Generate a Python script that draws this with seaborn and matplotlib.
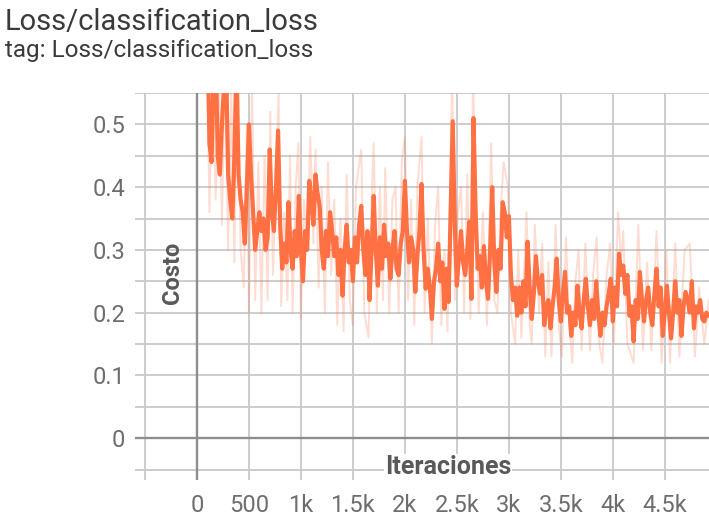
import numpy as np
import pandas as pd
import matplotlib
matplotlib.use("Agg")
import matplotlib.pyplot as plt
import seaborn as sns

# Smoothed classification loss, one value every 20 steps from step 100
smooth_first_step = 100
smooth_step_size = 20
smooth_loss = [
    0.66, 0.47, 0.44, 0.58, 0.62,
    0.45, 0.42, 0.50, 0.56, 0.60,
    0.42, 0.38, 0.35, 0.45, 0.60,
    0.42, 0.38, 0.36, 0.31, 0.40,
    0.50, 0.42, 0.36, 0.30, 0.33,
    0.36, 0.33, 0.35, 0.30, 0.32,
    0.46, 0.36, 0.33, 0.40, 0.49,
    0.34, 0.27, 0.31, 0.28, 0.376,
    0.30, 0.27, 0.33, 0.29, 0.386,
    0.30, 0.25, 0.33, 0.30, 0.41,
    0.38, 0.34, 0.42, 0.39, 0.37,
    0.30, 0.27, 0.33, 0.29, 0.36,
    0.33, 0.29, 0.32, 0.26, 0.30,
    0.227, 0.30, 0.34, 0.28, 0.30,
    0.25, 0.32, 0.28, 0.34, 0.37,
    0.30, 0.26, 0.33, 0.22, 0.30,
    0.386, 0.30, 0.243, 0.32, 0.27,
    0.34, 0.29, 0.31, 0.254, 0.30,
    0.33, 0.27, 0.26, 0.31, 0.33,
    0.41, 0.33, 0.28, 0.32, 0.30,
    0.233, 0.29, 0.33, 0.405, 0.30,
    0.238, 0.27, 0.24, 0.19, 0.25,
    0.27, 0.31, 0.25, 0.28, 0.206,
    0.27, 0.217, 0.36, 0.505, 0.34,
    0.243, 0.29, 0.33, 0.28, 0.26,
    0.30, 0.345, 0.222, 0.51, 0.36,
    0.27, 0.29, 0.24, 0.306, 0.25,
    0.222, 0.30, 0.40, 0.28, 0.233,
    0.30, 0.27, 0.376, 0.36, 0.32,
    0.354, 0.259, 0.22, 0.24, 0.195,
    0.24, 0.20, 0.25, 0.21, 0.313,
    0.24, 0.19, 0.23, 0.29, 0.25,
    0.23, 0.26, 0.18, 0.21, 0.22,
    0.175, 0.21, 0.24, 0.286, 0.22,
    0.186, 0.23, 0.265, 0.20, 0.21,
    0.163, 0.20, 0.18, 0.243, 0.20,
    0.175, 0.22, 0.254, 0.21, 0.18,
    0.22, 0.19, 0.25, 0.20, 0.163,
    0.20, 0.18, 0.21, 0.23, 0.254,
    0.186, 0.24, 0.21, 0.294, 0.26,
    0.275, 0.23, 0.26, 0.195, 0.21,
    0.154, 0.22, 0.19, 0.265, 0.22,
    0.186, 0.22, 0.24, 0.20, 0.18,
    0.23, 0.27, 0.21, 0.24, 0.163,
    0.20, 0.243, 0.20, 0.159, 0.20,
    0.25, 0.20, 0.22, 0.163, 0.21,
    0.233, 0.22, 0.20, 0.25, 0.175,
    0.21, 0.20, 0.22, 0.19, 0.186,
    0.20, 0.195,
]

# Raw (unsmoothed) loss values (step, value)
raw_steps = [
    90, 120, 150, 180, 210, 240, 270, 300, 330, 360, 390, 420, 450, 480, 500, 530,
    560, 590, 620, 650, 680, 705, 730, 760, 785, 810, 840, 870, 895, 920, 950, 975,
    1000, 1030, 1060, 1090, 1120, 1140, 1170, 1200, 1230, 1260, 1290, 1320, 1350,
    1380, 1410, 1440, 1470, 1500, 1530, 1580, 1610, 1650, 1680, 1700, 1730, 1760,
    1790, 1810, 1850, 1880, 1910, 1940, 1970, 2000, 2030, 2060, 2090, 2120, 2160,
    2190, 2220, 2260, 2290, 2320, 2350, 2380, 2410, 2440, 2455, 2480, 2510, 2540,
    2570, 2600, 2630, 2655, 2680, 2710, 2750, 2790, 2830, 2860, 2890, 2920, 2950,
    2990, 3020, 3060, 3090, 3120, 3170, 3200, 3220, 3250, 3290, 3320, 3350, 3380,
    3410, 3450, 3480, 3510, 3550, 3580, 3610, 3640, 3670, 3700, 3735, 3780, 3810,
    3845, 3870, 3900, 3940, 3975, 4010, 4050, 4080, 4100, 4140, 4200, 4245, 4290,
    4330, 4370, 4420, 4470, 4515, 4550, 4600, 4640, 4690, 4740, 4790, 4830, 4880,
    4923,
]
raw_loss = [
    0.70, 0.36, 0.62, 0.38, 0.58, 0.34, 0.62, 0.30, 0.55, 0.28, 0.62, 0.30, 0.24, 0.50, 0.20, 0.56,
    0.22, 0.44, 0.20, 0.45, 0.22, 0.52, 0.26, 0.40, 0.55, 0.21, 0.36, 0.22, 0.45, 0.20, 0.40, 0.47,
    0.19, 0.38, 0.30, 0.48, 0.31, 0.46, 0.24, 0.40, 0.20, 0.44, 0.26, 0.38, 0.18,
    0.35, 0.17, 0.42, 0.22, 0.18, 0.40, 0.46, 0.20, 0.16, 0.38, 0.47, 0.20, 0.40,
    0.22, 0.43, 0.20, 0.38, 0.40, 0.20, 0.44, 0.48, 0.22, 0.38, 0.18, 0.40, 0.48,
    0.20, 0.35, 0.15, 0.34, 0.40, 0.18, 0.30, 0.17, 0.45, 0.58, 0.22, 0.36, 0.40,
    0.20, 0.42, 0.19, 0.58, 0.42, 0.20, 0.36, 0.18, 0.47, 0.22, 0.20, 0.36, 0.44,
    0.40, 0.20, 0.15, 0.30, 0.16, 0.36, 0.18, 0.15, 0.34, 0.20, 0.31, 0.13, 0.28,
    0.13, 0.34, 0.18, 0.13, 0.32, 0.18, 0.12, 0.25, 0.30, 0.14, 0.31, 0.14, 0.26,
    0.32, 0.15, 0.12, 0.26, 0.31, 0.15, 0.36, 0.28, 0.33, 0.15, 0.12, 0.34, 0.14,
    0.28, 0.14, 0.33, 0.12, 0.30, 0.12, 0.31, 0.13, 0.30, 0.31, 0.13, 0.24, 0.15,
    0.22,
]

x_ticks = [-500, 0, 500, 1000, 1500, 2000, 2500, 3000, 3500, 4000, 4500]
x_labels = ["", "0", "500", "1k", "1.5k", "2k", "2.5k", "3k", "3.5k", "4k", "4.5k"]
y_ticks = [-0.05, 0, 0.05, 0.1, 0.15, 0.2, 0.25, 0.3, 0.35, 0.4, 0.45, 0.5, 0.55]
y_labels = ["", "0", "", "0.1", "", "0.2", "", "0.3", "", "0.4", "", "0.5", ""]

LINE = "#ff7043"

sns.set_theme(style="white")
plt.rcParams["font.family"] = ["Roboto", "DejaVu Sans"]

W, H = 709, 518
fig = plt.figure(figsize=(W / 100, H / 100), dpi=100)
ax = fig.add_axes([135 / W, 1 - 480 / H, 1 - 135 / W, (480 - 93) / H])
ax.set_facecolor("white")

smooth_steps = smooth_first_step + smooth_step_size * np.arange(len(smooth_loss))
raw_df = pd.DataFrame({"step": raw_steps, "loss": raw_loss})
smooth_df = pd.DataFrame({"step": smooth_steps, "loss": smooth_loss})

sns.lineplot(data=raw_df, x="step", y="loss", ax=ax, color=LINE, alpha=0.24,
             linewidth=1.4, sort=False, estimator=None, zorder=3)
sns.lineplot(data=smooth_df, x="step", y="loss", ax=ax, color=LINE,
             linewidth=3.0, sort=False, estimator=None, zorder=4)

ax.set_xlim(-596, 4925)
ax.set_ylim(-0.0667, 0.5476)

ax.set_xticks(x_ticks)
ax.set_xticklabels(x_labels)
ax.set_yticks(y_ticks)
ax.set_yticklabels(y_labels)
ax.grid(True, color="#c9c9c9", linewidth=1.3, zorder=0)
ax.axhline(0, color="#8e8e8e", linewidth=1.7, zorder=1)
ax.axvline(0, color="#8e8e8e", linewidth=1.7, zorder=1)
ax.set_axisbelow(True)
for s in ax.spines.values():
    s.set_visible(False)
ax.tick_params(axis="both", length=0, labelsize=17, labelcolor="#6e6e6e")
ax.tick_params(axis="x", pad=10)
ax.tick_params(axis="y", pad=7)
ax.set_xlabel("")
ax.set_ylabel("")

fig.text(173 / W, 1 - 273 / H, "Costo", rotation=90, ha="center", va="center",
         fontsize=17, fontweight="bold", color="#595959")
fig.text(448 / W, 1 - 467 / H, "Iteraciones", ha="center", va="center",
         fontsize=18, fontweight="bold", color="#595959",
         bbox=dict(facecolor="white", edgecolor="none", pad=0.5))

fig.text(5 / W, 1 - 30 / H, "Loss/classification_loss", ha="left", va="baseline",
         fontsize=21, color="#3a3a3a")
fig.text(5 / W, 1 - 57 / H, "tag: Loss/classification_loss", ha="left", va="baseline",
         fontsize=17.5, color="#3a3a3a")

fig.savefig("out.png", dpi=100, facecolor="white")
